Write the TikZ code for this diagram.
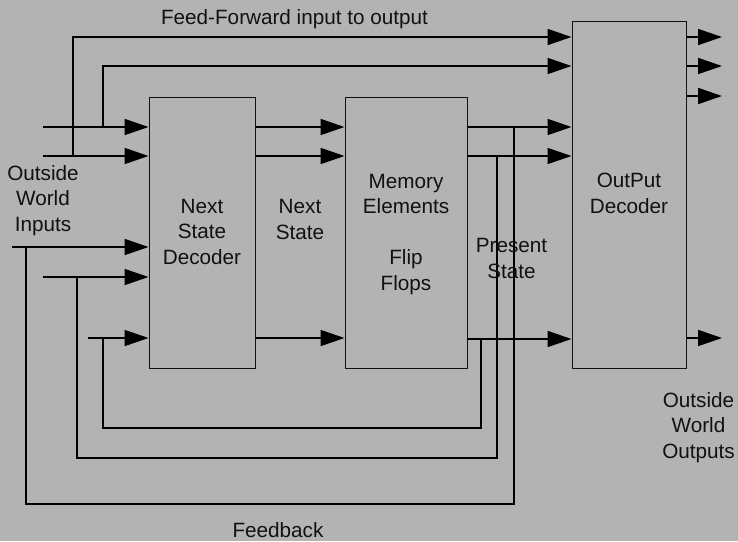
\documentclass[tikz,border=0pt]{standalone}
\usepackage{fontspec}
\setmainfont{Liberation Sans}
\usetikzlibrary{arrows.meta}
\definecolor{bg}{RGB}{179,179,179}
\definecolor{ink}{RGB}{17,17,17}
\begin{document}
\begin{tikzpicture}[x=1pt,y=-1pt,
  block/.style={draw=ink, line width=1pt, inner sep=0pt},
  wire/.style={draw=black, line width=1.7pt},
  arr/.style={wire, -{Triangle[length=24pt,width=16pt]}},
  lbl/.style={text=ink, inner sep=0pt, anchor=base, align=center,
    font=\fontsize{20.7}{25.5}\selectfont}]
  % canvas
  \fill[bg] (0,0) rectangle (738,541);
  \useasboundingbox (0,0) rectangle (738,541);

  % the three blocks
  \node[block, minimum width=106pt, minimum height=271pt] (nsd) at (202,232.5) {};
  \node[block, minimum width=122pt, minimum height=271pt] (mem) at (406,232.5) {};
  \node[block, minimum width=114pt, minimum height=347pt] (od)  at (629,194.5) {};

  % row positions
  \coordinate (rA) at (0,127);
  \coordinate (rB) at (0,156);
  \coordinate (rC) at (0,247);
  \coordinate (rD) at (0,277);
  \coordinate (rE) at (0,338);
  \coordinate (rQ) at (0,339);
  \coordinate (rF1) at (0,37);
  \coordinate (rF2) at (0,66);

  % outside world inputs
  \coordinate (inA) at (43,127);
  \coordinate (inB) at (43,156);
  \coordinate (inC) at (12,247);
  \coordinate (inD) at (43,277);
  \coordinate (inE) at (88,338);
  \draw[arr] (inA) -- (nsd.west |- rA);
  \draw[arr] (inB) -- (nsd.west |- rB);
  \draw[arr] (inC) -- (nsd.west |- rC);
  \draw[arr] (inD) -- (nsd.west |- rD);
  \draw[arr] (inE) -- (nsd.west |- rE);

  % feed-forward taps to the output decoder
  \coordinate (tapB) at (73,156);
  \coordinate (tapA) at (103,127);
  \draw[arr] (tapB) |- (od.west |- rF1);
  \draw[arr] (tapA) |- (od.west |- rF2);

  % next state
  \draw[arr] (nsd.east |- rA) -- (mem.west |- rA);
  \draw[arr] (nsd.east |- rB) -- (mem.west |- rB);
  \draw[arr] (nsd.east |- rE) -- (mem.west |- rE);

  % present state
  \draw[arr] (mem.east |- rA) -- (od.west |- rA);
  \draw[arr] (mem.east |- rB) -- (od.west |- rB);
  \draw[arr] (mem.east |- rQ) -- (od.west |- rQ);

  % outside world outputs
  \coordinate (oA) at (722,37);
  \coordinate (oB) at (722,66);
  \coordinate (oC) at (722,96);
  \coordinate (oD) at (722,338);
  \draw[arr] (od.east |- oA) -- (oA);
  \draw[arr] (od.east |- oB) -- (oB);
  \draw[arr] (od.east |- oC) -- (oC);
  \draw[arr] (od.east |- oD) -- (oD);

  % feedback loops
  \coordinate (fA) at (514,127);
  \coordinate (fB) at (497,156);
  \coordinate (fC) at (481,339);
  \coordinate (fA1) at (514,504);
  \coordinate (fB1) at (497,458);
  \coordinate (fC1) at (481,428);
  \coordinate (gA) at (26,247);
  \coordinate (gB) at (77,277);
  \coordinate (gC) at (103,338);
  \draw[wire] (fA) -- (fA1) -| (gA);
  \draw[wire] (fB) -- (fB1) -| (gB);
  \draw[wire] (fC) -- (fC1) -| (gC);

  % labels (anchored at the baseline of their last line)
  \node[lbl] (tff) at (294.5,24) {Feed-Forward input to output};
  \node[lbl] (tin) at (43,231) {Outside\\World\\Inputs};
  \node[lbl] (tnsd) at (202,264) {Next\\State\\Decoder};
  \node[lbl] (tns) at (300,239) {Next\\State};
  \node[lbl] (tmem) at (406,290) {Memory\\Elements\\[25.5pt]Flip\\Flops};
  \node[lbl] (tps) at (511.5,278) {Present\\State};
  \node[lbl] (tod) at (629,213) {OutPut\\Decoder};
  \node[lbl] (tout) at (698.5,458) {Outside\\World\\Outputs};
  \node[lbl] (tfb) at (278,537) {Feedback};
\end{tikzpicture}
\end{document}
